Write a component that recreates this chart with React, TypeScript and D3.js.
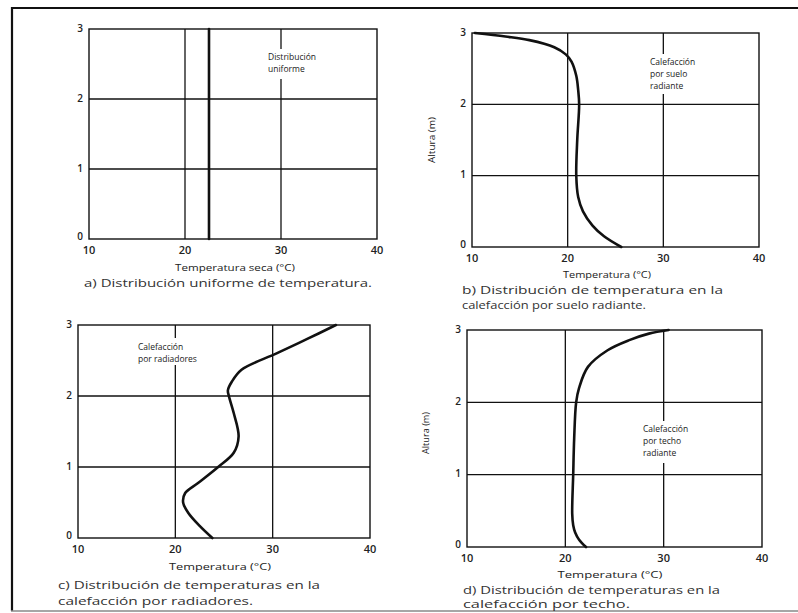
import React from "react";
import * as d3 from "d3";

// ---- data ----
const xTicks = [10, 20, 30, 40];
const yTicks = [0, 1, 2, 3];

const heightsA = [0, 3];
const tempsA = [22.5, 22.5];

const heightsB = [3, 2.95, 2.9, 2.8, 2.7, 2.6, 2.4, 2.2, 2.0, 1.5, 1.0, 0.7, 0.5, 0.3, 0.15, 0];
const tempsB = [10.3, 13.5, 16, 18.6, 19.8, 20.4, 20.9, 21.1, 21.2, 21.0, 20.9, 21.1, 21.6, 22.6, 23.8, 25.6];

const heightsC = [3, 2.8, 2.6, 2.37, 2.2, 2.08, 2.0, 1.76, 1.43, 1.2, 1.0, 0.77, 0.63, 0.5, 0.36, 0.17, 0];
const tempsC = [36.5, 33.5, 30.4, 26.8, 25.8, 25.4, 25.5, 26.0, 26.5, 26.0, 24.4, 22.3, 21.0, 20.8, 21.3, 22.5, 23.8];

const heightsD = [3, 2.95, 2.86, 2.72, 2.49, 2.2, 2.0, 1.5, 1.0, 0.46, 0.3, 0.2, 0.1, 0];
const tempsD = [30.5, 28.5, 26.5, 24.3, 22.3, 21.4, 21.1, 20.9, 20.8, 20.7, 20.8, 21.0, 21.4, 22.1];

const xLabels = ["Temperatura seca (°C)", "Temperatura (°C)", "Temperatura (°C)", "Temperatura (°C)"];
const yLabel = "Altura (m)";
const annotations = [
  ["Distribución", "uniforme"],
  ["Calefacción", "por suelo", "radiante"],
  ["Calefacción", "por radiadores"],
  ["Calefacción", "por techo", "radiante"],
];
const captions = [
  ["a) Distribución uniforme de temperatura."],
  ["b) Distribución de temperatura en la", "calefacción por suelo radiante."],
  ["c) Distribución de temperaturas en la", "calefacción por radiadores."],
  ["d) Distribución de temperaturas en la", "calefacción  por techo."],
];

type Layout = {
  left: number; right: number; top: number; bottom: number;
  heights: number[]; temps: number[];
  xLabel: { x: number; y: number; w: number };
  yLab?: { x: number; y: number; w: number };
  ann: { x: number; y: number; dy: number; bg: [number, number, number, number] };
  cap: { x: number; ys: number[]; ws: number[]; size: number };
  curve: "line" | "smooth";
};

const FONT = "'Open Sans', 'DejaVu Sans', sans-serif";

const panels: Layout[] = [
  {
    left: 89, right: 377, top: 29, bottom: 239,
    heights: heightsA, temps: tempsA,
    xLabel: { x: 235, y: 269, w: 120 },
    ann: { x: 268, y: 58, dy: 12, bg: [266, 49, 72, 30] },
    cap: { x: 84, ys: [284], ws: [288], size: 11 },
    curve: "line",
  },
  {
    left: 472, right: 759, top: 33, bottom: 247,
    heights: heightsB, temps: tempsB,
    xLabel: { x: 607, y: 276, w: 88 },
    yLab: { x: 433, y: 140, w: 46 },
    ann: { x: 650, y: 63, dy: 11.8, bg: [648, 54, 60, 40] },
    cap: { x: 462, ys: [291, 306], ws: [261, 184], size: 11 },
    curve: "smooth",
  },
  {
    left: 78, right: 370, top: 325, bottom: 538,
    heights: heightsC, temps: tempsC,
    xLabel: { x: 220, y: 568, w: 102 },
    ann: { x: 138, y: 348, dy: 12, bg: [136, 338, 88, 27] },
    cap: { x: 58, ys: [586, 602], ws: [262, 195], size: 11 },
    curve: "smooth",
  },
  {
    left: 467, right: 762, top: 330, bottom: 547,
    heights: heightsD, temps: tempsD,
    xLabel: { x: 610, y: 576, w: 105 },
    yLab: { x: 427, y: 433, w: 42 },
    ann: { x: 643, y: 430, dy: 11.8, bg: [641, 421, 66, 42] },
    cap: { x: 463, ys: [591, 605], ws: [257, 167], size: 10.3 },
    curve: "smooth",
  },
];

function Panel({ p, i }: { p: Layout; i: number }) {
  const x = d3.scaleLinear().domain([10, 40]).range([p.left, p.right]);
  const y = d3.scaleLinear().domain([0, 3]).range([p.bottom, p.top]);
  const pts = p.temps.map((t, k) => [t, p.heights[k]] as [number, number]);
  const line = d3
    .line<[number, number]>()
    .x((d) => x(d[0]))
    .y((d) => y(d[1]))
    .curve(p.curve === "smooth" ? d3.curveCatmullRom.alpha(0.5) : d3.curveLinear);
  const stroke = "#111";
  return (
    <g>
      {[20, 30].map((v) => (
        <line key={"gx" + v} x1={x(v)} x2={x(v)} y1={y(0)} y2={y(3)} stroke={stroke} strokeWidth={1.3} />
      ))}
      {[1, 2].map((v) => (
        <line key={"gy" + v} x1={x(10)} x2={x(40)} y1={y(v)} y2={y(v)} stroke={stroke} strokeWidth={1.3} />
      ))}
      <rect x={p.left} y={p.top} width={p.right - p.left} height={p.bottom - p.top} fill="none" stroke={stroke} strokeWidth={1.4} />
      <rect x={p.ann.bg[0]} y={p.ann.bg[1]} width={p.ann.bg[2]} height={p.ann.bg[3]} fill="#fff" />
      {annotations[i].map((s, k) => (
        <text key={"a" + k} x={p.ann.x} y={p.ann.y + k * p.ann.dy} fontSize={8.5} fontFamily={FONT} fill="#222" dominantBaseline="middle">
          {s}
        </text>
      ))}
      <path d={line(pts) || ""} fill="none" stroke="#111" strokeWidth={2.6} strokeLinecap="round" />
      {xTicks.map((v) => (
        <text key={"xt" + v} x={x(v)} y={p.bottom + 12} fontSize={11} fontWeight={600} fontFamily={FONT} textAnchor="middle" dominantBaseline="middle" fill="#222">
          {v}
        </text>
      ))}
      {yTicks.map((v) => (
        <text key={"yt" + v} x={p.left - 6} y={y(v) - (v === 0 ? 2 : 0)} fontSize={10} fontWeight={600} fontFamily={FONT} textAnchor="end" dominantBaseline="middle" fill="#222">
          {v}
        </text>
      ))}
      <text x={p.xLabel.x} y={p.xLabel.y} fontSize={9} fontFamily={FONT} textAnchor="middle" dominantBaseline="middle" fill="#222" textLength={p.xLabel.w} lengthAdjust="spacingAndGlyphs">
        {xLabels[i]}
      </text>
      {p.yLab && (
        <text
          transform={`translate(${p.yLab.x},${p.yLab.y}) rotate(-90)`}
          fontSize={9}
          fontFamily={FONT}
          textAnchor="middle"
          dominantBaseline="middle"
          fill="#222"
          textLength={p.yLab.w}
          lengthAdjust="spacingAndGlyphs"
        >
          {yLabel}
        </text>
      )}
      {captions[i].map((s, k) => (
        <text key={"c" + k} x={p.cap.x} y={p.cap.ys[k]} fontSize={p.cap.size} fontFamily={FONT} fill="#333" dominantBaseline="middle" textLength={p.cap.ws[k]} lengthAdjust="spacingAndGlyphs">
          {s}
        </text>
      ))}
    </g>
  );
}

export default function App() {
  return (
    <div style={{ position: "absolute", left: 0, top: 0 }}>
      <svg width={798} height={613} style={{ display: "block", background: "#fff" }}>
        <rect x={0} y={0} width={798} height={613} fill="#fff" />
        <line x1={11} x2={798} y1={8} y2={8} stroke="#111" strokeWidth={2.2} />
        <line x1={12} x2={12} y1={7} y2={611} stroke="#111" strokeWidth={2.2} />
        <line x1={11} x2={798} y1={611} y2={611} stroke="#888" strokeWidth={1.5} />
        {panels.map((p, i) => (
          <Panel key={i} p={p} i={i} />
        ))}
      </svg>
    </div>
  );
}
